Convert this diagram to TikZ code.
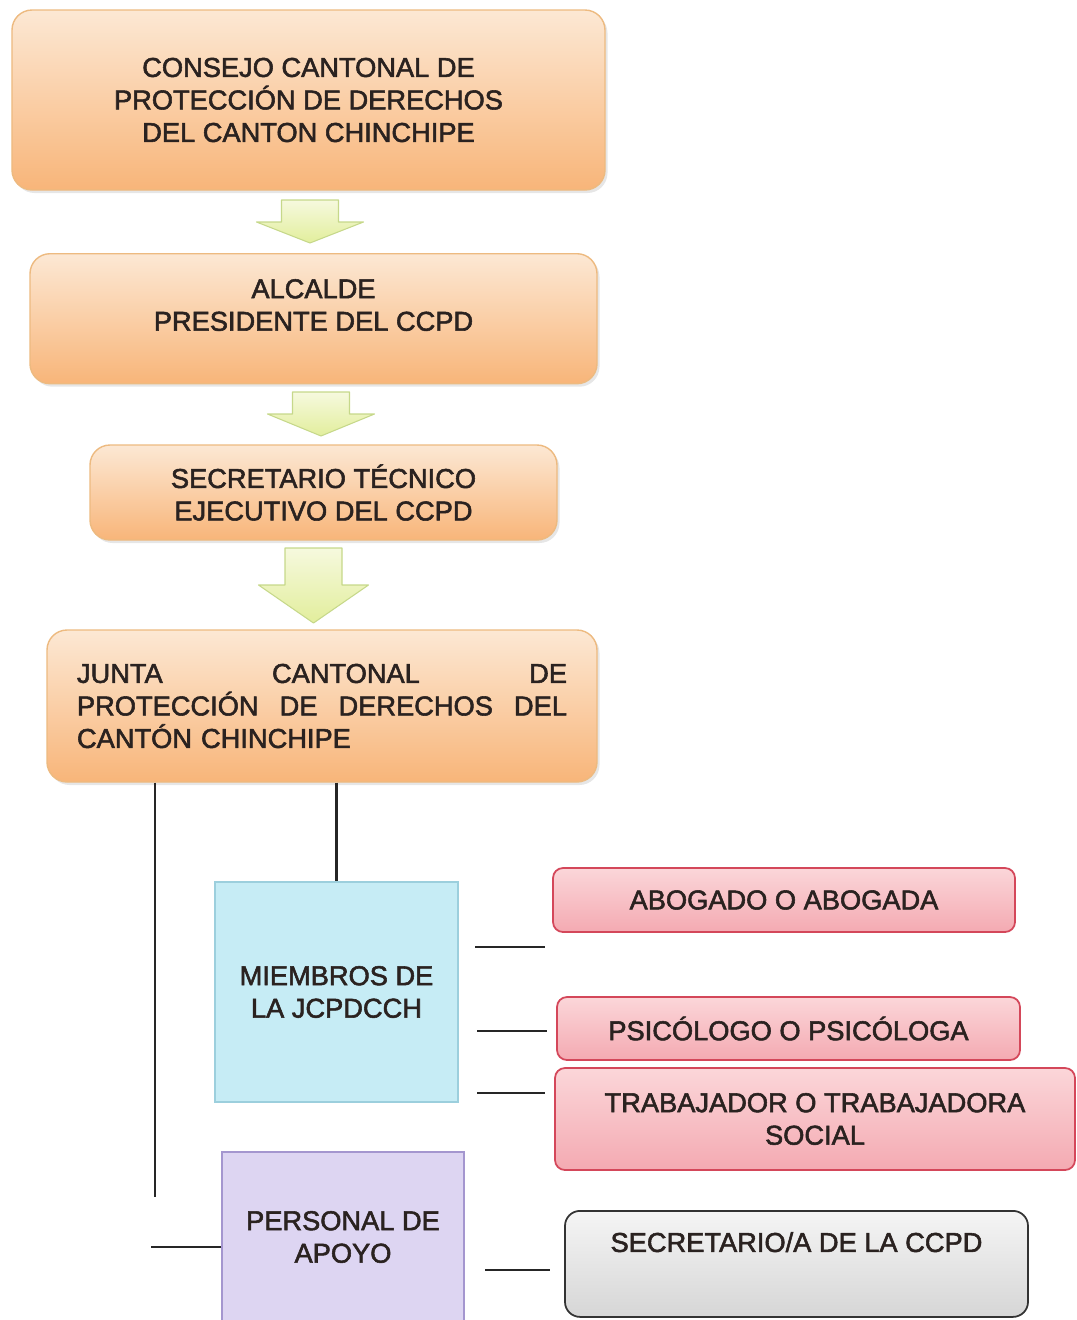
\documentclass[tikz,border=0pt]{standalone}
\usepackage{fontspec}
\setmainfont{Liberation Sans}[BoldFont=Liberation Sans, BoldFeatures={FakeBold=2}]
\usepackage{tikz}
\usetikzlibrary{shadows}
\definecolor{naranjaclaro}{HTML}{FCE8D4}
\definecolor{naranja}{HTML}{F8B579}
\definecolor{bordenaranja}{HTML}{EDBA80}
\definecolor{verdeclaro}{HTML}{F6F9DE}
\definecolor{verdeflecha}{HTML}{E2EE9C}
\definecolor{bordeflecha}{HTML}{C6D88A}
\definecolor{cian}{HTML}{C6ECF5}
\definecolor{bordecian}{HTML}{9CCFDD}
\definecolor{rosaclaro}{HTML}{FBD6D9}
\definecolor{rosa}{HTML}{F4AAB2}
\definecolor{borderosa}{HTML}{D4475A}
\definecolor{lavanda}{HTML}{DDD5F2}
\definecolor{bordelavanda}{HTML}{A496CF}
\definecolor{grisclaro}{HTML}{F5F5F5}
\definecolor{gris}{HTML}{D6D6D6}
\definecolor{tinta}{HTML}{2A2220}
\tikzstyle{organo}   = [rectangle, rounded corners=4mm, draw=bordenaranja, line width=0.8pt, top color=naranjaclaro, bottom color=naranja, align=center, drop shadow={opacity=0.2, shadow xshift=0.5mm, shadow yshift=-0.6mm}]
\tikzstyle{bajada}   = [draw=bordeflecha, line width=0.6pt, top color=verdeclaro, bottom color=verdeflecha, line join=round]
\tikzstyle{miembros} = [rectangle, draw=bordecian, line width=0.8pt, fill=cian, align=center]
\tikzstyle{cargo}    = [rectangle, rounded corners=2mm, draw=borderosa, line width=1pt, top color=rosaclaro, bottom color=rosa, align=center]
\tikzstyle{apoyo}    = [rectangle, draw=bordelavanda, line width=0.8pt, fill=lavanda, align=center]
\tikzstyle{secre}    = [rectangle, rounded corners=3mm, draw=black!80, line width=1pt, top color=grisclaro, bottom color=gris]
\tikzstyle{linea}    = [line width=1.3pt, black!85]

\begin{document}
\begin{tikzpicture}[node distance=3cm, font=\fontsize{15.5}{18.5}\selectfont\bfseries, text=tinta]
    \useasboundingbox (0,0) rectangle (21.54,-26.4);
    % Nodes
    %% Cadena de mando
    \node (consejo)    [organo, minimum width=11.86cm, minimum height=3.6cm]  at (6.17,-2.0)   {CONSEJO CANTONAL DE\\PROTECCIÓN DE DERECHOS\\DEL CANTON CHINCHIPE};
    \node (alcalde)    [organo, minimum width=11.34cm, inner ysep=0pt, text height=1.54cm, text depth=1.06cm, anchor=north] at (6.27,-5.06) {ALCALDE\\PRESIDENTE DEL CCPD};
    \node (secretario) [organo, minimum width=9.34cm, minimum height=1.9cm]   at (6.47,-9.85)  {SECRETARIO TÉCNICO\\EJECUTIVO DEL CCPD};
    \node (junta)      [organo, minimum width=11.0cm, minimum height=3.04cm, text width=9.8cm, align=left] at (6.44,-14.12)
        {\makebox[9.8cm]{JUNTA\hfill CANTONAL\hfill DE}\\\makebox[9.8cm]{PROTECCIÓN\hfill DE\hfill DERECHOS\hfill DEL}\\CANTÓN CHINCHIPE};
    %% Miembros de la junta
    \node (miembros)   [miembros, minimum width=4.86cm, minimum height=4.4cm] at (6.73,-19.84)  {MIEMBROS DE\\LA JCPDCCH};
    \node (abogado)    [cargo, minimum width=9.24cm, minimum height=1.28cm]   at (15.68,-18.0)  {ABOGADO O ABOGADA};
    \node (psicologo)  [cargo, minimum width=9.26cm, minimum height=1.26cm]   at (15.77,-20.57) {PSICÓLOGO O PSICÓLOGA};
    \node (trabajador) [cargo, minimum width=10.4cm, minimum height=2.04cm]   at (16.3,-22.38)  {TRABAJADOR O TRABAJADORA\\SOCIAL};
    %% Personal de apoyo
    \node (personal)   [apoyo, minimum width=4.84cm, minimum height=3.4cm]    at (6.86,-24.74)  {PERSONAL DE\\APOYO};
    \node (secretaria) [secre, minimum width=9.26cm, inner ysep=0pt, text height=0.82cm, text depth=1.3cm, anchor=north] at (15.93,-24.2) {SECRETARIO/A DE LA CCPD};

    % Block arrows
    \coordinate (f1) at (6.2,-4.0);
    \coordinate (f2) at (6.42,-7.84);
    \coordinate (f3) at (6.27,-10.96);
    \draw [bajada] (f1) ++(-0.57,0) -- ++(1.14,0) -- ++(0,-0.44) -- ++(0.5,0) -- ++(-1.07,-0.42) -- ++(-1.07,0.42) -- ++(0.5,0) -- cycle;
    \draw [bajada] (f2) ++(-0.57,0) -- ++(1.14,0) -- ++(0,-0.44) -- ++(0.5,0) -- ++(-1.07,-0.44) -- ++(-1.07,0.44) -- ++(0.5,0) -- cycle;
    \draw [bajada] (f3) ++(-0.57,0) -- ++(1.14,0) -- ++(0,-0.74) -- ++(0.53,0) -- ++(-1.1,-0.76) -- ++(-1.1,0.76) -- ++(0.53,0) -- cycle;

    % Lines
    \coordinate (bajo) at (3.1,-23.94);
    \coordinate (m1)   at (9.5,-18.94);
    \coordinate (m2)   at (9.54,-20.62);
    \coordinate (m3)   at (9.54,-21.86);
    \coordinate (s1)   at (9.7,-25.4);
    \draw [linea] (bajo |- junta.south)           -- (bajo);
    \draw [linea] (miembros.north |- junta.south) -- (miembros.north);
    \draw [linea] ([yshift=-2mm]personal.west)   -- ++(-1.4,0);
    \draw [linea] (m1) -- ++(1.4,0);
    \draw [linea] (m2) -- ++(1.4,0);
    \draw [linea] (m3) -- ++(1.36,0);
    \draw [linea] (s1) -- ++(1.3,0);
\end{tikzpicture}
\end{document}
